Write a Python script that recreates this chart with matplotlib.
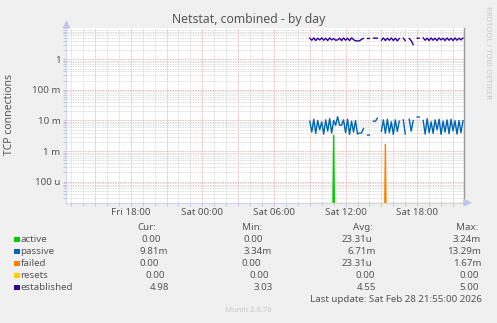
import numpy as np
import matplotlib
matplotlib.use("Agg")
import matplotlib.pyplot as plt
from matplotlib.ticker import FixedLocator, LogLocator, NullFormatter, MultipleLocator
from matplotlib.patches import Rectangle

plt.rcParams['font.family'] = ['Noto Sans', 'DejaVu Sans']

nan = np.nan

# samples every 10 min, first one Sat 09:00 (x in hours since Fri 00:00)
t_start = 33.0
t_step = 1 / 6

active = [0, 0, 0, 0, 0, 0, 0, 0, 0, 0, 0, 0, 3.24e-3,
          0, 0, 0, 0, 0, 0, 0, 0, 0, 0, 0, 0, 0,
          0, 0, 0, 0, 0, 0, 0, 0, 0, 0, 0, 0, 0,
          0, 0, 0, 0, 0, 0, 0, 0, 0, 0, 0, 0, 0,
          0, 0, 0, 0, 0, 0, 0, 0, 0, 0, 0, 0, 0,
          0, 0, 0, 0, 0, 0, 0, 0, 0, 0, 0, 0, 0]

passive_m = [9.5, 4.2, 11.0, 3.8, 10.0, 5.0, 9.0, 3.6, 10.5, 4.5, 11.5, 3.9, 10.0,
             7.0, 13.29, 7.0, 7.0, 10.5, 4.0, 11.0, 3.5, 9.5, 4.2, 10.0, 3.6, 3.9,
             3.9, 5.5, nan, 3.34, 3.34, nan, 9.5, 9.5, 12.0, nan, 4.5, 10.5, 3.8,
             11.0, 4.0, 9.0, 3.5, 10.5, 4.4, 9.5, nan, 10.5, 3.6, nan, 11.0, 4.5,
             10.0, nan, 13.0, 13.0, nan, 10.0, 3.6, 11.5, 4.0, 9.0, 3.8, 10.5,
             5.0, 11.0, 3.5, 9.5, 4.2, 10.5, 3.7, 11.0, 4.6, 9.8, 3.6, 10.0, 4.0, 9.81]

failed = [0, 0, 0, 0, 0, 0, 0, 0, 0, 0, 0, 0, 0,
          0, 0, 0, 0, 0, 0, 0, 0, 0, 0, 0, 0, 0,
          0, 0, 0, 0, 0, 0, 0, 0, 0, 0, 0, 0, 1.67e-3,
          0, 0, 0, 0, 0, 0, 0, 0, 0, 0, 0, 0, 0,
          0, 0, 0, 0, 0, 0, 0, 0, 0, 0, 0, 0, 0,
          0, 0, 0, 0, 0, 0, 0, 0, 0, 0, 0, 0, 0]

resets = [0, 0, 0, 0, 0, 0, 0, 0, 0, 0, 0, 0, 0,
          0, 0, 0, 0, 0, 0, 0, 0, 0, 0, 0, 0, 0,
          0, 0, 0, 0, 0, 0, 0, 0, 0, 0, 0, 0, 0,
          0, 0, 0, 0, 0, 0, 0, 0, 0, 0, 0, 0, 0,
          0, 0, 0, 0, 0, 0, 0, 0, 0, 0, 0, 0, 0,
          0, 0, 0, 0, 0, 0, 0, 0, 0, 0, 0, 0, 0]

established = [4.9, 4.2, 5.0, 4.1, 4.9, 4.3, 5.0, 4.2, 4.9, 4.1, 5.0, 4.3, 4.8,
               4.2, 4.3, 4.9, 4.1, 5.0, 4.2, 4.9, 4.1, 5.0, 4.4, 4.0, 4.0, 4.0,
               4.5, 4.8, nan, 4.8, 4.8, nan, 4.9, 4.9, 4.9, nan, 4.2, 5.0, 4.1,
               4.9, 4.2, 5.0, 4.1, 4.9, 4.0, 4.8, nan, 4.9, 4.1, nan, 4.8, 4.0,
               3.03, nan, 4.9, 4.9, nan, 5.0, 4.2, 4.9, 4.1, 5.0, 4.2, 4.9,
               4.1, 5.0, 4.3, 4.9, 4.1, 5.0, 4.2, 4.9, 4.1, 5.0, 4.2, 4.9, 4.3, 4.98]

names = ['active', 'passive', 'failed', 'resets', 'established']
colors = ['#00CC00', '#0066B3', '#FF8000', '#FFCC00', '#330099']
cur = ['0.00', '9.81m', '0.00', '0.00', '4.98']
mins = ['0.00', '3.34m', '0.00', '0.00', '3.03']
avgs = ['23.31u', '6.71m', '23.31u', '0.00', '4.55']
maxs = ['3.24m', '13.29m', '1.67m', '0.00', '5.00']

ymin, ymax = 2.06e-5, 10.3
xmin, xmax = 12.58, 45.92

W, H = 497, 323
fig = plt.figure(figsize=(W / 100, H / 100), dpi=100, facecolor='#F0F0F0')
ax = fig.add_axes([66 / W, 1 - 202.7 / H, 398 / W, 174.4 / H])
ax.set_facecolor('white')

t = t_start + np.arange(len(passive_m)) * t_step


def floored(v, low):
    a = np.array(v, dtype=float)
    a[a <= 0] = low
    return a


# spikes drop straight out of the bottom; the all-zero series sits on the axis
series = [floored(active, 1e-9), np.array(passive_m, dtype=float) * 1e-3,
          floored(failed, 1e-9), floored(resets, ymin), np.array(established, dtype=float)]
for s, c in zip(series, colors):
    ax.plot(t, s, color=c, lw=1.0, zorder=3)

ax.set_yscale('log')
ax.set_ylim(ymin, ymax)
ax.set_xlim(xmin, xmax)

# y grid / ticks
ax.yaxis.set_major_locator(FixedLocator([1e-4, 1e-3, 1e-2, 1e-1, 1]))
ax.set_yticklabels(['100 u', '1 m', '10 m', '100 m', '1'])
ax.yaxis.set_minor_locator(LogLocator(base=10, subs=np.arange(2, 10)))
ax.yaxis.set_minor_formatter(NullFormatter())

# x grid / ticks
xt = np.arange(15, 46, 3)
ax.xaxis.set_major_locator(FixedLocator(xt))
days = {0: 'Fri', 1: 'Sat'}
ax.set_xticklabels([('%s %02d:00' % (days[int(h // 24)], h % 24)) if h % 6 == 0 else '' for h in xt])
ax.xaxis.set_minor_locator(MultipleLocator(1))

ax.grid(which='major', color='#E8A0A0', ls=(0, (1, 1)), lw=0.6)
ax.grid(which='minor', color='#CFCFCF', ls=(0, (1, 1)), lw=0.6)
ax.set_axisbelow(True)

ax.tick_params(which='both', length=2, width=0.6, color='#B8BEDA', labelsize=7, labelcolor='#555555', pad=2)

for side in ['left', 'bottom']:
    ax.spines[side].set_color('#C0C6E8')
    ax.spines[side].set_linewidth(1.0)
    ax.spines[side].set_alpha(0.6)
    ax.spines[side].set_zorder(5)
ax.spines['top'].set_visible(False)
ax.spines['right'].set_color('#999999')
ax.spines['right'].set_linewidth(1.0)

# axis arrows
fig.patches.append(plt.Polygon([[63.5 / W, 1 - 28 / H], [69.5 / W, 1 - 28 / H], [66.5 / W, 1 - 21.5 / H]],
                               closed=True, transform=fig.transFigure, color='#C0C6E8'))
fig.patches.append(plt.Polygon([[464 / W, 1 - 199.7 / H], [464 / W, 1 - 205.7 / H], [471 / W, 1 - 202.7 / H]],
                               closed=True, transform=fig.transFigure, color='#C0C6E8'))


def px(x, y):
    return x / W, 1 - y / H


fig.text(*px(249, 19.5), 'Netstat, combined - by day', ha='center', va='center', fontsize=8.8, color='#555555')
fig.text(*px(10, 114), 'TCP connections', rotation=90, ha='center', va='center', fontsize=7.5, color='#555555')
fig.text(*px(488, 53), 'RRDTOOL / TOBI OETIKER', rotation=270, ha='center', va='center', fontsize=5.5, color='#C8C8C8')

# legend
fs = 7
tc = '#555555'
fig.text(*px(137, 227), 'Cur:', va='center', fontsize=fs, color=tc)
fig.text(*px(242, 227), 'Min:', va='center', fontsize=fs, color=tc)
fig.text(*px(353, 227), 'Avg:', va='center', fontsize=fs, color=tc)
fig.text(*px(456, 227), 'Max:', va='center', fontsize=fs, color=tc)

row_y = [239.3, 251.3, 263, 275, 287]
cur_x = [141, 140, 139, 146, 150]
min_x = [243, 244, 242, 250, 254]
avg_x = [342, 347, 342, 355, 357]
max_x = [453, 447, 453, 459, 459]
for i in range(5):
    y = row_y[i]
    fig.patches.append(Rectangle(px(14, y + 3), 5.5 / W, 5.5 / H, transform=fig.transFigure,
                                 color=colors[i], lw=0))
    fig.text(*px(20.5, y), names[i], va='center', fontsize=fs, color=tc)
    fig.text(*px(cur_x[i], y), cur[i], va='center', fontsize=fs, color=tc)
    fig.text(*px(min_x[i], y), mins[i], va='center', fontsize=fs, color=tc)
    fig.text(*px(avg_x[i], y), avgs[i], va='center', fontsize=fs, color=tc)
    fig.text(*px(max_x[i], y), maxs[i], va='center', fontsize=fs, color=tc)

fig.text(*px(482, 299.3), 'Last update: Sat Feb 28 21:55:00 2026', ha='right', va='center', fontsize=fs, color=tc)
fig.text(*px(248, 311), 'Munin 2.0.76', ha='center', va='center', fontsize=5.5, color='#C8C8C8')

fig.savefig('out.png', dpi=100, facecolor=fig.get_facecolor())
